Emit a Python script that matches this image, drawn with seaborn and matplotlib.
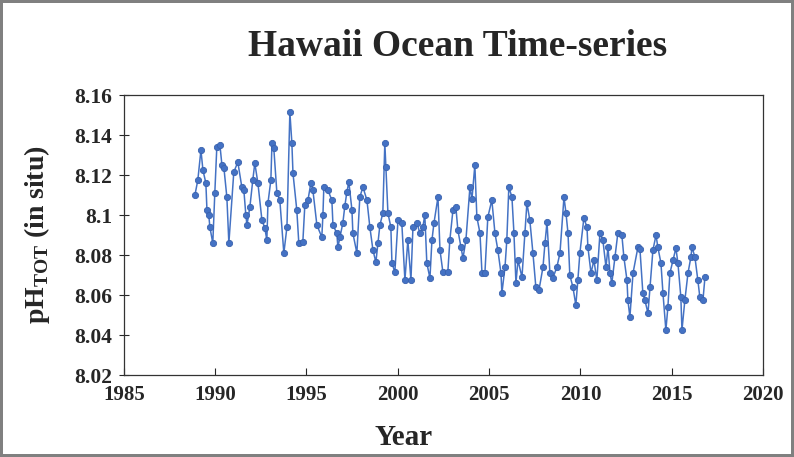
import numpy as np
import matplotlib
matplotlib.use('Agg')
import matplotlib.pyplot as plt
import pandas as pd
import seaborn as sns

# values
year = [1988.89, 1989.05, 1989.22, 1989.33, 1989.49, 1989.55, 1989.65, 1989.71, 1989.87, 1989.98,
        1990.09, 1990.26, 1990.37, 1990.48, 1990.64, 1990.75, 1991.02, 1991.24, 1991.46, 1991.57,
        1991.68, 1991.74, 1991.90, 1992.06, 1992.17, 1992.34, 1992.56, 1992.72, 1992.83, 1992.89,
        1993.05, 1993.11, 1993.21, 1993.38, 1993.54, 1993.76, 1993.93, 1994.09, 1994.20, 1994.26,
        1994.47, 1994.58, 1994.80, 1994.91, 1995.08, 1995.24, 1995.35, 1995.57, 1995.84, 1995.90,
        1995.95, 1996.17, 1996.39, 1996.45, 1996.66, 1996.72, 1996.83, 1996.99, 1997.10, 1997.21,
        1997.32, 1997.49, 1997.54, 1997.76, 1997.92, 1998.09, 1998.31, 1998.47, 1998.64, 1998.80,
        1998.91, 1999.02, 1999.18, 1999.29, 1999.35, 1999.46, 1999.62, 1999.68, 1999.84, 2000.01,
        2000.22, 2000.39, 2000.55, 2000.72, 2000.83, 2001.05, 2001.21, 2001.37, 2001.48, 2001.59,
        2001.76, 2001.87, 2001.98, 2002.20, 2002.31, 2002.47, 2002.74, 2002.85, 2003.02, 2003.18,
        2003.29, 2003.46, 2003.57, 2003.73, 2003.95, 2004.06, 2004.22, 2004.33, 2004.50, 2004.61,
        2004.77, 2004.93, 2005.15, 2005.32, 2005.48, 2005.65, 2005.70, 2005.87, 2005.97, 2006.08,
        2006.25, 2006.36, 2006.47, 2006.58, 2006.80, 2006.96, 2007.07, 2007.23, 2007.40, 2007.56,
        2007.73, 2007.95, 2008.06, 2008.17, 2008.33, 2008.49, 2008.71, 2008.88, 2009.10, 2009.21,
        2009.32, 2009.42, 2009.59, 2009.75, 2009.86, 2009.97, 2010.19, 2010.36, 2010.41, 2010.58,
        2010.74, 2010.90, 2011.07, 2011.23, 2011.40, 2011.51, 2011.62, 2011.72, 2011.89, 2012.05,
        2012.27, 2012.38, 2012.55, 2012.60, 2012.71, 2012.88, 2013.15, 2013.26, 2013.42, 2013.53,
        2013.70, 2013.81, 2013.97, 2014.14, 2014.24, 2014.41, 2014.52, 2014.68, 2014.79, 2014.90,
        2015.07, 2015.23, 2015.34, 2015.50, 2015.56, 2015.72, 2015.89, 2016.05, 2016.11, 2016.27,
        2016.43, 2016.54, 2016.71, 2016.82]
ph = [8.110, 8.1175, 8.1325, 8.1225, 8.116, 8.1025, 8.100, 8.094, 8.086, 8.111,
      8.134, 8.135, 8.125, 8.1235, 8.109, 8.086, 8.1215, 8.1265, 8.114, 8.1125,
      8.100, 8.095, 8.104, 8.1175, 8.126, 8.116, 8.0975, 8.0935, 8.0875, 8.106,
      8.1175, 8.136, 8.1335, 8.111, 8.1075, 8.081, 8.094, 8.1515, 8.136, 8.121,
      8.1025, 8.086, 8.0865, 8.105, 8.1075, 8.116, 8.1125, 8.095, 8.089, 8.100,
      8.114, 8.1125, 8.1075, 8.095, 8.091, 8.084, 8.089, 8.096, 8.1045, 8.1115,
      8.1165, 8.1025, 8.091, 8.081, 8.109, 8.114, 8.1075, 8.094, 8.0825, 8.0765,
      8.086, 8.095, 8.101, 8.136, 8.124, 8.101, 8.094, 8.076, 8.0715, 8.0975,
      8.096, 8.0675, 8.0875, 8.0675, 8.094, 8.096, 8.091, 8.094, 8.100, 8.076,
      8.0685, 8.0875, 8.096, 8.109, 8.0825, 8.0715, 8.0715, 8.0875, 8.1025, 8.104,
      8.0925, 8.084, 8.0785, 8.0875, 8.114, 8.108, 8.125, 8.099, 8.091, 8.071,
      8.071, 8.099, 8.1075, 8.091, 8.0825, 8.071, 8.061, 8.074, 8.0875, 8.114,
      8.109, 8.091, 8.066, 8.0775, 8.069, 8.091, 8.106, 8.0975, 8.081, 8.064,
      8.0625, 8.074, 8.086, 8.0965, 8.071, 8.0685, 8.074, 8.081, 8.109, 8.101,
      8.091, 8.070, 8.064, 8.055, 8.0675, 8.081, 8.0985, 8.094, 8.084, 8.071,
      8.0775, 8.0675, 8.091, 8.0875, 8.074, 8.084, 8.071, 8.066, 8.079, 8.091,
      8.090, 8.079, 8.0675, 8.0575, 8.049, 8.071, 8.084, 8.083, 8.061, 8.0575,
      8.051, 8.064, 8.0825, 8.090, 8.084, 8.076, 8.061, 8.0425, 8.054, 8.071,
      8.0775, 8.0835, 8.076, 8.059, 8.0425, 8.0575, 8.071, 8.079, 8.084, 8.079,
      8.0675, 8.059, 8.0575, 8.069]

x_ticks = [1985, 1990, 1995, 2000, 2005, 2010, 2015, 2020]
y_ticks = [8.02, 8.04, 8.06, 8.08, 8.10, 8.12, 8.14, 8.16]
y_labels = ['8.02', '8.04', '8.06', '8.08', '8.1', '8.12', '8.14', '8.16']

df = pd.DataFrame({'Year': year, 'pH': ph})

sns.set_style('ticks')
plt.rcParams['font.family'] = ['Liberation Serif', 'DejaVu Serif']
plt.rcParams['font.weight'] = 'bold'
plt.rcParams['mathtext.fontset'] = 'custom'
plt.rcParams['mathtext.rm'] = 'Liberation Serif:bold'

fig = plt.figure(figsize=(7.94, 4.57), dpi=100, edgecolor='#808080', linewidth=3)
ax = fig.add_axes([0.156, 0.179, 0.805, 0.613])

sns.lineplot(data=df, x='Year', y='pH', ax=ax, sort=False, color='#4472C4',
             linewidth=1.1, marker='o', markersize=4.5, markeredgecolor='#3A62AE',
             markeredgewidth=0.6)

ax.set_xlim(1985, 2020)
ax.set_ylim(8.02, 8.16)
ax.set_xticks(x_ticks)
ax.set_xticklabels([str(t) for t in x_ticks])
ax.set_yticks(y_ticks)
ax.set_yticklabels(y_labels)
ax.tick_params(axis='y', direction='inout', length=7, width=0.8, labelsize=15.5, pad=5)
ax.tick_params(axis='x', direction='in', length=5, width=0.8, labelsize=15, pad=7)
for s in ax.spines.values():
    s.set_linewidth(0.9)
    s.set_color('#333333')

ax.set_xlabel('Year', fontsize=21, fontweight='bold')
ax.xaxis.set_label_coords(0.438, -0.175)
ax.set_ylabel(r'pH$_{\mathrm{TOT}}$ (in situ)', fontsize=20, fontweight='bold')
ax.yaxis.set_label_coords(-0.113, 0.5)
fig.text(0.576, 0.898, 'Hawaii Ocean Time-series', ha='center', va='center',
         fontsize=27, fontweight='bold')

fig.savefig('out.png', dpi=100, edgecolor=fig.get_edgecolor())
